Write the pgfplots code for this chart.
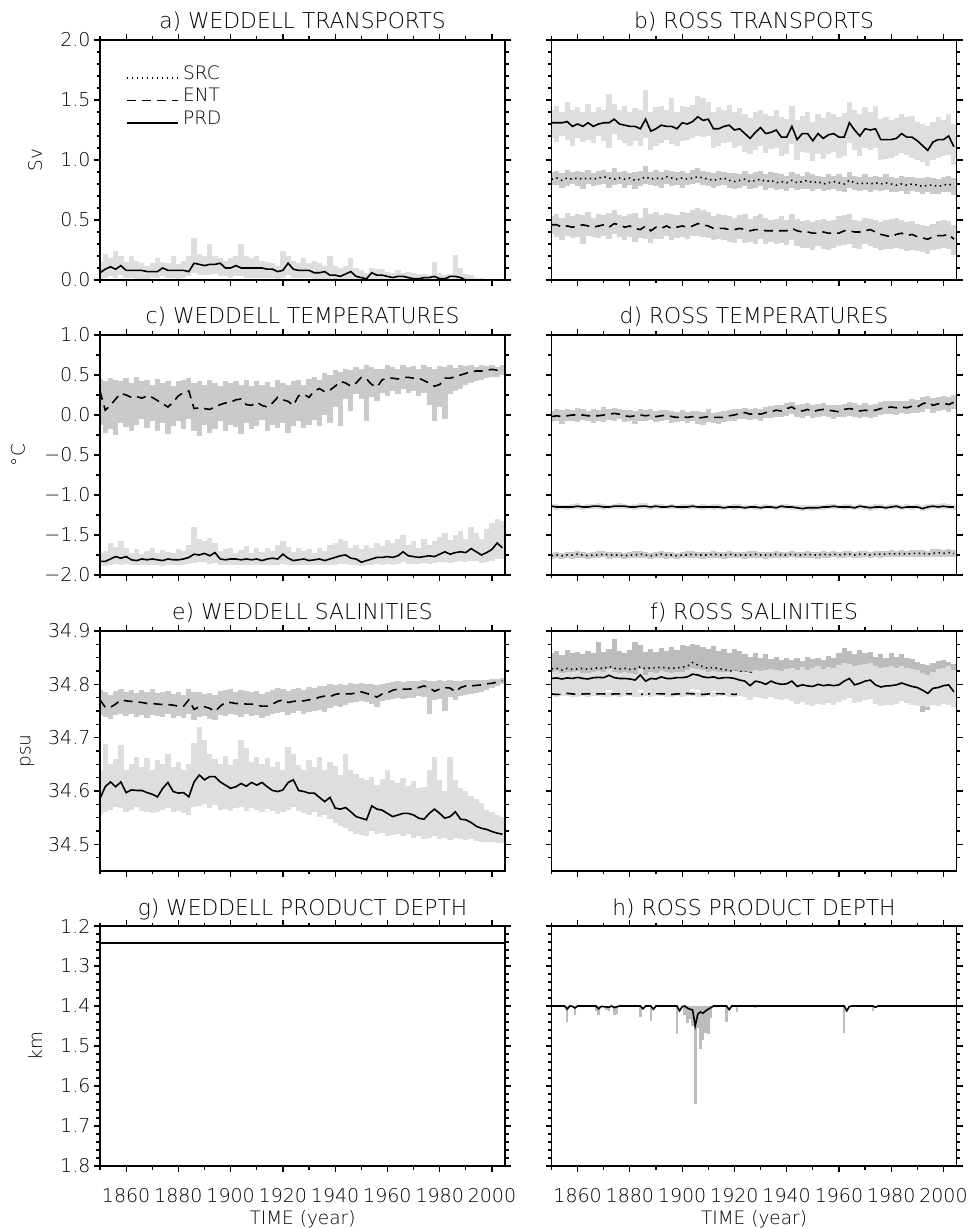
\documentclass[border=0pt]{standalone}
\usepackage{pgfplots}
\pgfplotsset{compat=1.18}
\usepackage{pgfplotstable}
\usepackage{fontspec}
\setmainfont{DejaVu Sans ExtraLight}

\definecolor{bandlight}{RGB}{221,222,224}
\definecolor{bandent}{RGB}{213,214,216}
\definecolor{bandmid}{RGB}{201,202,204}
\definecolor{banddark}{RGB}{187,188,190}

% a) Weddell transports: product (mean, min, max)
\pgfplotstableread{
year pm pl ph
1850 0.06 0.00 0.15
1852 0.09 0.02 0.22
1854 0.11 0.03 0.18
1856 0.09 0.02 0.24
1858 0.12 0.04 0.20
1860 0.08 0.02 0.15
1862 0.08 0.02 0.20
1864 0.08 0.01 0.16
1866 0.08 0.01 0.14
1868 0.07 0.01 0.12
1870 0.07 0.02 0.14
1872 0.07 0.02 0.18
1874 0.10 0.03 0.15
1876 0.08 0.02 0.14
1878 0.08 0.02 0.20
1880 0.08 0.01 0.13
1882 0.08 0.02 0.16
1884 0.07 0.03 0.20
1886 0.14 0.06 0.35
1888 0.13 0.04 0.22
1890 0.12 0.04 0.20
1892 0.13 0.04 0.30
1894 0.13 0.05 0.20
1896 0.14 0.03 0.18
1898 0.10 0.03 0.16
1900 0.10 0.02 0.18
1902 0.12 0.03 0.20
1904 0.10 0.03 0.30
1906 0.10 0.02 0.20
1908 0.10 0.02 0.18
1910 0.10 0.02 0.20
1912 0.10 0.02 0.16
1914 0.09 0.02 0.15
1916 0.09 0.02 0.14
1918 0.07 0.01 0.12
1920 0.08 0.02 0.24
1922 0.14 0.04 0.20
1924 0.09 0.02 0.16
1926 0.08 0.02 0.14
1928 0.08 0.02 0.18
1930 0.08 0.02 0.14
1932 0.06 0.01 0.16
1934 0.06 0.01 0.14
1936 0.07 0.01 0.12
1938 0.04 0.00 0.20
1940 0.04 0.00 0.12
1942 0.03 0.00 0.10
1944 0.05 0.00 0.12
1946 0.07 0.00 0.18
1948 0.03 0.00 0.10
1950 0.02 0.00 0.08
1952 0.01 0.00 0.06
1954 0.06 0.00 0.10
1956 0.04 0.00 0.09
1958 0.04 0.00 0.09
1960 0.03 0.00 0.07
1962 0.02 0.00 0.06
1964 0.03 0.00 0.08
1966 0.03 0.00 0.06
1968 0.02 0.00 0.07
1970 0.01 0.00 0.06
1972 0.01 0.00 0.05
1974 0.02 0.00 0.05
1976 0.02 0.00 0.04
1978 0.03 0.00 0.15
1980 0.01 0.00 0.06
1982 0.01 0.00 0.04
1984 0.03 0.00 0.05
1986 0.03 0.00 0.21
1988 0.02 0.00 0.10
1990 0.00 0.00 0.05
1992 0.00 0.00 0.04
1994 0.00 0.00 0.02
1996 0.00 0.00 0.02
1998 0.00 0.00 0.01
2000 0.00 0.00 0.01
2002 0.00 0.00 0.00
2004 0.00 0.00 0.00
}\tabA

% b) Ross transports: source, entrainment, product (mean, min, max)
\pgfplotstableread{
year sm sl sh em el eh pm pl ph
1850 0.84 0.79 0.90 0.46 0.38 0.53 1.31 1.18 1.42
1852 0.85 0.79 0.91 0.46 0.36 0.55 1.31 1.15 1.45
1854 0.83 0.77 0.89 0.44 0.33 0.52 1.31 1.20 1.40
1856 0.85 0.78 0.92 0.45 0.37 0.56 1.32 1.17 1.48
1858 0.84 0.80 0.90 0.44 0.35 0.53 1.28 1.12 1.42
1860 0.85 0.78 0.91 0.45 0.36 0.55 1.30 1.18 1.44
1862 0.84 0.76 0.90 0.46 0.30 0.54 1.28 1.15 1.40
1864 0.85 0.80 0.92 0.45 0.37 0.57 1.31 1.17 1.47
1866 0.84 0.78 0.89 0.44 0.36 0.52 1.28 1.14 1.40
1868 0.85 0.79 0.91 0.45 0.35 0.55 1.30 1.20 1.44
1870 0.86 0.80 0.92 0.46 0.37 0.54 1.31 1.16 1.42
1872 0.85 0.77 0.90 0.44 0.34 0.56 1.31 1.10 1.55
1874 0.84 0.79 0.93 0.47 0.38 0.58 1.34 1.22 1.47
1876 0.85 0.80 0.90 0.46 0.36 0.54 1.30 1.17 1.42
1878 0.84 0.77 0.91 0.44 0.33 0.53 1.29 1.14 1.45
1880 0.85 0.79 0.89 0.45 0.36 0.55 1.28 1.12 1.40
1882 0.83 0.76 0.90 0.43 0.32 0.56 1.28 1.16 1.43
1884 0.84 0.78 0.91 0.42 0.35 0.52 1.26 1.12 1.42
1886 0.86 0.80 0.95 0.45 0.34 0.60 1.34 1.18 1.58
1888 0.84 0.79 0.90 0.41 0.31 0.55 1.24 1.08 1.40
1890 0.85 0.78 0.92 0.44 0.34 0.57 1.26 1.12 1.44
1892 0.84 0.77 0.90 0.43 0.34 0.54 1.29 1.14 1.45
1894 0.86 0.80 0.92 0.45 0.37 0.56 1.28 1.17 1.42
1896 0.85 0.78 0.91 0.43 0.33 0.55 1.28 1.13 1.52
1898 0.84 0.79 0.90 0.44 0.35 0.54 1.26 1.12 1.40
1900 0.85 0.77 0.91 0.45 0.36 0.57 1.31 1.16 1.45
1902 0.84 0.79 0.89 0.44 0.34 0.56 1.30 1.17 1.44
1904 0.85 0.80 0.92 0.45 0.37 0.58 1.32 1.18 1.46
1906 0.86 0.81 0.93 0.47 0.37 0.60 1.36 1.20 1.53
1908 0.85 0.79 0.91 0.46 0.36 0.58 1.33 1.19 1.52
1910 0.84 0.78 0.90 0.45 0.35 0.57 1.34 1.20 1.48
1912 0.83 0.77 0.89 0.43 0.33 0.53 1.26 1.10 1.40
1914 0.84 0.78 0.91 0.43 0.34 0.55 1.26 1.12 1.44
1916 0.85 0.79 0.90 0.43 0.33 0.54 1.28 1.14 1.42
1918 0.83 0.77 0.89 0.42 0.32 0.53 1.29 1.15 1.46
1920 0.82 0.76 0.89 0.42 0.31 0.52 1.25 1.10 1.40
1922 0.83 0.77 0.88 0.43 0.34 0.54 1.26 1.12 1.43
1924 0.84 0.78 0.91 0.42 0.31 0.55 1.22 1.07 1.38
1926 0.82 0.76 0.88 0.41 0.32 0.51 1.18 1.05 1.35
1928 0.83 0.77 0.90 0.42 0.30 0.53 1.23 1.08 1.40
1930 0.84 0.78 0.91 0.42 0.34 0.55 1.27 1.12 1.42
1932 0.82 0.75 0.88 0.41 0.30 0.52 1.22 1.06 1.38
1934 0.83 0.77 0.90 0.41 0.32 0.50 1.23 1.09 1.37
1936 0.81 0.75 0.89 0.41 0.30 0.51 1.25 1.10 1.42
1938 0.82 0.76 0.88 0.41 0.31 0.53 1.19 1.03 1.36
1940 0.81 0.74 0.87 0.41 0.29 0.50 1.19 1.05 1.34
1942 0.83 0.77 0.90 0.43 0.33 0.55 1.28 1.13 1.45
1944 0.81 0.75 0.88 0.41 0.28 0.51 1.17 1.00 1.33
1946 0.82 0.76 0.87 0.40 0.27 0.49 1.22 1.07 1.37
1948 0.83 0.76 0.90 0.40 0.27 0.50 1.22 1.06 1.40
1950 0.81 0.74 0.88 0.39 0.25 0.48 1.16 0.99 1.32
1952 0.82 0.76 0.87 0.39 0.28 0.50 1.22 1.05 1.38
1954 0.80 0.74 0.86 0.40 0.26 0.51 1.18 1.01 1.35
1956 0.81 0.75 0.88 0.39 0.25 0.49 1.21 1.05 1.40
1958 0.82 0.76 0.87 0.39 0.27 0.50 1.22 1.07 1.38
1960 0.81 0.74 0.88 0.39 0.28 0.53 1.19 1.02 1.36
1962 0.80 0.73 0.86 0.41 0.29 0.54 1.19 1.03 1.39
1964 0.83 0.77 0.90 0.41 0.30 0.55 1.31 1.14 1.48
1966 0.81 0.75 0.87 0.40 0.27 0.50 1.25 1.08 1.42
1968 0.80 0.74 0.86 0.40 0.26 0.49 1.20 1.03 1.38
1970 0.81 0.75 0.88 0.41 0.30 0.52 1.26 1.10 1.44
1972 0.80 0.73 0.86 0.42 0.28 0.51 1.25 1.08 1.40
1974 0.81 0.75 0.87 0.40 0.27 0.50 1.26 1.10 1.45
1976 0.80 0.74 0.86 0.38 0.25 0.48 1.17 1.00 1.34
1978 0.81 0.75 0.88 0.37 0.26 0.50 1.17 1.01 1.36
1980 0.80 0.73 0.86 0.36 0.26 0.51 1.17 1.02 1.33
1982 0.79 0.73 0.85 0.38 0.27 0.52 1.18 1.03 1.35
1984 0.80 0.74 0.87 0.39 0.26 0.50 1.22 1.06 1.38
1986 0.79 0.72 0.86 0.37 0.24 0.48 1.19 1.04 1.36
1988 0.80 0.74 0.86 0.38 0.25 0.49 1.19 1.02 1.37
1990 0.79 0.73 0.85 0.36 0.24 0.47 1.16 1.00 1.32
1992 0.78 0.72 0.85 0.35 0.23 0.46 1.12 0.98 1.30
1994 0.79 0.73 0.86 0.34 0.22 0.45 1.08 0.95 1.28
1996 0.79 0.72 0.85 0.36 0.25 0.47 1.15 1.00 1.32
1998 0.78 0.72 0.84 0.37 0.26 0.49 1.17 1.02 1.36
2000 0.79 0.73 0.86 0.37 0.27 0.50 1.17 1.03 1.33
2002 0.80 0.73 0.87 0.38 0.26 0.49 1.20 1.04 1.38
2004 0.78 0.71 0.85 0.34 0.21 0.46 1.11 0.96 1.30
}\tabB

% c) Weddell temperatures: entrainment, product
\pgfplotstableread{
year em el eh pm pl ph
1850 0.30 -0.12 0.45 -1.83 -1.88 -1.72
1852 0.06 -0.22 0.42 -1.83 -1.89 -1.70
1854 0.12 -0.18 0.46 -1.80 -1.87 -1.60
1856 0.20 -0.25 0.44 -1.77 -1.86 -1.65
1858 0.27 -0.10 0.43 -1.79 -1.87 -1.58
1860 0.25 -0.15 0.46 -1.77 -1.86 -1.66
1862 0.22 -0.20 0.40 -1.81 -1.88 -1.72
1864 0.23 -0.12 0.47 -1.82 -1.88 -1.68
1866 0.21 -0.05 0.42 -1.80 -1.87 -1.74
1868 0.24 -0.16 0.44 -1.81 -1.88 -1.70
1870 0.22 -0.08 0.38 -1.80 -1.87 -1.66
1872 0.18 -0.20 0.45 -1.81 -1.88 -1.72
1874 0.14 -0.10 0.40 -1.82 -1.89 -1.69
1876 0.10 -0.24 0.43 -1.80 -1.88 -1.71
1878 0.16 -0.14 0.36 -1.81 -1.87 -1.73
1880 0.24 -0.08 0.42 -1.81 -1.88 -1.68
1882 0.28 -0.18 0.44 -1.80 -1.87 -1.70
1884 0.30 -0.05 0.46 -1.78 -1.86 -1.62
1886 0.08 -0.20 0.40 -1.74 -1.85 -1.40
1888 0.09 -0.26 0.42 -1.75 -1.84 -1.55
1890 0.08 -0.12 0.38 -1.73 -1.84 -1.58
1892 0.07 -0.22 0.44 -1.76 -1.86 -1.54
1894 0.10 -0.18 0.40 -1.72 -1.85 -1.60
1896 0.13 -0.08 0.36 -1.80 -1.87 -1.70
1898 0.15 -0.20 0.43 -1.81 -1.88 -1.68
1900 0.16 -0.12 0.40 -1.80 -1.87 -1.66
1902 0.19 -0.15 0.42 -1.80 -1.88 -1.72
1904 0.20 -0.24 0.38 -1.81 -1.87 -1.69
1906 0.13 -0.10 0.44 -1.80 -1.88 -1.64
1908 0.12 -0.18 0.36 -1.81 -1.87 -1.72
1910 0.16 -0.14 0.42 -1.80 -1.88 -1.66
1912 0.12 -0.06 0.37 -1.82 -1.88 -1.71
1914 0.10 -0.20 0.41 -1.80 -1.87 -1.66
1916 0.15 -0.12 0.35 -1.79 -1.87 -1.70
1918 0.22 -0.16 0.44 -1.80 -1.88 -1.62
1920 0.19 -0.10 0.40 -1.74 -1.86 -1.58
1922 0.17 -0.22 0.38 -1.79 -1.87 -1.65
1924 0.12 -0.14 0.42 -1.82 -1.88 -1.71
1926 0.24 -0.08 0.44 -1.81 -1.88 -1.66
1928 0.26 -0.16 0.38 -1.80 -1.87 -1.70
1930 0.22 -0.12 0.45 -1.82 -1.88 -1.68
1932 0.30 -0.06 0.48 -1.81 -1.88 -1.72
1934 0.33 -0.14 0.44 -1.80 -1.87 -1.66
1936 0.29 0.00 0.52 -1.82 -1.88 -1.70
1938 0.31 -0.10 0.50 -1.80 -1.87 -1.62
1940 0.36 0.10 0.56 -1.78 -1.87 -1.60
1942 0.42 -0.14 0.54 -1.76 -1.86 -1.55
1944 0.40 0.20 0.58 -1.75 -1.86 -1.58
1946 0.36 0.05 0.56 -1.79 -1.87 -1.66
1948 0.40 0.26 0.60 -1.80 -1.88 -1.62
1950 0.47 0.20 0.58 -1.84 -1.89 -1.68
1952 0.45 -0.08 0.62 -1.82 -1.88 -1.62
1954 0.38 0.22 0.60 -1.80 -1.87 -1.66
1956 0.35 0.18 0.57 -1.78 -1.86 -1.60
1958 0.44 0.28 0.58 -1.78 -1.87 -1.64
1960 0.46 0.24 0.62 -1.77 -1.86 -1.56
1962 0.46 0.30 0.60 -1.78 -1.87 -1.60
1964 0.45 0.26 0.58 -1.76 -1.86 -1.55
1966 0.47 0.32 0.62 -1.71 -1.84 -1.50
1968 0.47 0.28 0.60 -1.76 -1.86 -1.62
1970 0.46 0.30 0.61 -1.77 -1.86 -1.58
1972 0.46 0.24 0.58 -1.78 -1.86 -1.66
1974 0.43 0.28 0.62 -1.77 -1.85 -1.55
1976 0.40 0.12 0.60 -1.76 -1.86 -1.62
1978 0.36 -0.08 0.58 -1.77 -1.85 -1.58
1980 0.38 0.10 0.61 -1.74 -1.84 -1.52
1982 0.46 -0.05 0.60 -1.71 -1.84 -1.48
1984 0.46 0.26 0.62 -1.74 -1.85 -1.56
1986 0.48 0.30 0.59 -1.72 -1.84 -1.50
1988 0.50 0.32 0.62 -1.71 -1.83 -1.45
1990 0.52 0.38 0.61 -1.72 -1.84 -1.55
1992 0.54 0.40 0.62 -1.67 -1.82 -1.40
1994 0.55 0.42 0.60 -1.71 -1.83 -1.48
1996 0.55 0.44 0.62 -1.75 -1.85 -1.55
1998 0.56 0.46 0.61 -1.72 -1.84 -1.42
2000 0.57 0.48 0.62 -1.68 -1.82 -1.35
2002 0.56 0.47 0.60 -1.60 -1.80 -1.30
2004 0.58 0.50 0.62 -1.66 -1.80 -1.32
}\tabC

% d) Ross temperatures: source, entrainment, product
\pgfplotstableread{
year sm sl sh em el eh pm pl ph
1850 -1.76 -1.80 -1.72 -0.02 -0.09 0.05 -1.14 -1.18 -1.11
1852 -1.75 -1.79 -1.71 -0.01 -0.07 0.07 -1.15 -1.19 -1.11
1854 -1.76 -1.80 -1.72 -0.02 -0.11 0.06 -1.15 -1.18 -1.12
1856 -1.75 -1.79 -1.71 -0.01 -0.08 0.08 -1.15 -1.19 -1.12
1858 -1.75 -1.80 -1.71 0.00 -0.07 0.06 -1.15 -1.18 -1.11
1860 -1.74 -1.79 -1.70 0.00 -0.09 0.09 -1.14 -1.18 -1.10
1862 -1.75 -1.79 -1.71 0.00 -0.06 0.07 -1.15 -1.19 -1.12
1864 -1.76 -1.80 -1.72 -0.01 -0.08 0.05 -1.15 -1.18 -1.11
1866 -1.75 -1.79 -1.71 -0.01 -0.10 0.08 -1.14 -1.18 -1.11
1868 -1.75 -1.79 -1.70 -0.01 -0.07 0.06 -1.14 -1.17 -1.10
1870 -1.74 -1.78 -1.70 0.00 -0.09 0.10 -1.15 -1.19 -1.11
1872 -1.75 -1.80 -1.71 0.01 -0.06 0.07 -1.15 -1.18 -1.12
1874 -1.75 -1.79 -1.71 0.02 -0.07 0.09 -1.14 -1.18 -1.11
1876 -1.75 -1.79 -1.71 0.01 -0.05 0.07 -1.14 -1.17 -1.10
1878 -1.76 -1.80 -1.72 -0.01 -0.09 0.06 -1.14 -1.18 -1.11
1880 -1.75 -1.79 -1.71 -0.02 -0.08 0.06 -1.15 -1.18 -1.12
1882 -1.75 -1.79 -1.70 -0.01 -0.11 0.05 -1.15 -1.19 -1.11
1884 -1.74 -1.79 -1.70 0.00 -0.07 0.07 -1.14 -1.17 -1.10
1886 -1.75 -1.79 -1.71 -0.01 -0.08 0.06 -1.14 -1.18 -1.10
1888 -1.76 -1.80 -1.72 0.00 -0.06 0.07 -1.15 -1.19 -1.12
1890 -1.75 -1.79 -1.71 -0.02 -0.09 0.05 -1.14 -1.18 -1.11
1892 -1.74 -1.79 -1.70 -0.01 -0.07 0.06 -1.15 -1.18 -1.11
1894 -1.75 -1.80 -1.71 0.00 -0.06 0.06 -1.15 -1.18 -1.12
1896 -1.75 -1.79 -1.71 -0.02 -0.10 0.05 -1.14 -1.18 -1.11
1898 -1.76 -1.80 -1.72 -0.03 -0.09 0.04 -1.15 -1.18 -1.12
1900 -1.75 -1.79 -1.71 -0.02 -0.08 0.06 -1.15 -1.19 -1.11
1902 -1.75 -1.79 -1.70 -0.03 -0.10 0.04 -1.15 -1.18 -1.11
1904 -1.74 -1.79 -1.70 -0.02 -0.08 0.05 -1.14 -1.18 -1.11
1906 -1.75 -1.79 -1.71 -0.04 -0.11 0.05 -1.15 -1.18 -1.12
1908 -1.75 -1.80 -1.71 -0.03 -0.12 0.04 -1.15 -1.19 -1.11
1910 -1.75 -1.79 -1.71 -0.02 -0.09 0.07 -1.15 -1.18 -1.12
1912 -1.74 -1.79 -1.70 -0.03 -0.10 0.03 -1.15 -1.19 -1.11
1914 -1.75 -1.79 -1.71 -0.03 -0.11 0.04 -1.15 -1.18 -1.11
1916 -1.75 -1.80 -1.71 -0.03 -0.09 0.05 -1.16 -1.19 -1.12
1918 -1.74 -1.79 -1.70 -0.01 -0.08 0.06 -1.15 -1.18 -1.12
1920 -1.75 -1.79 -1.71 0.00 -0.07 0.07 -1.15 -1.19 -1.11
1922 -1.75 -1.79 -1.71 0.02 -0.05 0.08 -1.15 -1.18 -1.11
1924 -1.75 -1.80 -1.71 0.03 -0.05 0.09 -1.16 -1.19 -1.12
1926 -1.75 -1.79 -1.70 0.01 -0.06 0.08 -1.15 -1.18 -1.12
1928 -1.74 -1.79 -1.70 0.02 -0.05 0.09 -1.15 -1.19 -1.11
1930 -1.75 -1.79 -1.71 0.01 -0.07 0.08 -1.16 -1.19 -1.12
1932 -1.75 -1.80 -1.71 0.03 -0.04 0.10 -1.15 -1.18 -1.11
1934 -1.75 -1.79 -1.71 0.04 -0.04 0.11 -1.15 -1.18 -1.12
1936 -1.74 -1.79 -1.70 0.06 -0.03 0.13 -1.16 -1.19 -1.12
1938 -1.75 -1.79 -1.71 0.05 -0.03 0.12 -1.14 -1.18 -1.11
1940 -1.75 -1.79 -1.71 0.08 -0.01 0.15 -1.15 -1.18 -1.11
1942 -1.74 -1.78 -1.70 0.10 0.01 0.16 -1.15 -1.19 -1.12
1944 -1.75 -1.79 -1.71 0.06 -0.03 0.13 -1.16 -1.19 -1.12
1946 -1.75 -1.79 -1.71 0.05 -0.04 0.14 -1.17 -1.20 -1.13
1948 -1.74 -1.79 -1.70 0.07 -0.01 0.15 -1.16 -1.19 -1.13
1950 -1.75 -1.79 -1.71 0.04 -0.04 0.13 -1.16 -1.20 -1.12
1952 -1.75 -1.80 -1.71 0.06 -0.03 0.14 -1.16 -1.19 -1.13
1954 -1.74 -1.79 -1.70 0.07 -0.01 0.15 -1.15 -1.19 -1.12
1956 -1.75 -1.79 -1.71 0.06 -0.03 0.13 -1.15 -1.18 -1.11
1958 -1.74 -1.78 -1.70 0.05 -0.05 0.12 -1.14 -1.18 -1.11
1960 -1.75 -1.79 -1.71 0.04 -0.03 0.13 -1.15 -1.18 -1.12
1962 -1.74 -1.79 -1.70 0.07 -0.02 0.14 -1.15 -1.19 -1.11
1964 -1.74 -1.78 -1.70 0.08 -0.01 0.16 -1.15 -1.18 -1.11
1966 -1.75 -1.79 -1.71 0.07 -0.02 0.15 -1.16 -1.19 -1.12
1968 -1.74 -1.79 -1.70 0.05 -0.04 0.13 -1.14 -1.18 -1.11
1970 -1.74 -1.78 -1.70 0.06 -0.03 0.15 -1.15 -1.19 -1.12
1972 -1.75 -1.79 -1.71 0.05 -0.04 0.13 -1.16 -1.20 -1.12
1974 -1.74 -1.78 -1.70 0.06 -0.02 0.14 -1.15 -1.19 -1.11
1976 -1.74 -1.79 -1.70 0.08 0.00 0.16 -1.15 -1.18 -1.11
1978 -1.74 -1.78 -1.70 0.09 0.01 0.17 -1.16 -1.19 -1.12
1980 -1.73 -1.78 -1.69 0.10 0.01 0.18 -1.15 -1.18 -1.11
1982 -1.74 -1.78 -1.70 0.09 0.00 0.17 -1.14 -1.18 -1.11
1984 -1.73 -1.78 -1.69 0.10 0.02 0.18 -1.16 -1.19 -1.12
1986 -1.74 -1.78 -1.70 0.09 0.01 0.17 -1.15 -1.18 -1.11
1988 -1.73 -1.77 -1.69 0.11 0.03 0.20 -1.15 -1.19 -1.12
1990 -1.73 -1.78 -1.69 0.10 0.02 0.19 -1.15 -1.18 -1.11
1992 -1.73 -1.78 -1.69 0.14 0.04 0.23 -1.17 -1.20 -1.13
1994 -1.74 -1.78 -1.70 0.16 0.07 0.24 -1.15 -1.19 -1.11
1996 -1.73 -1.77 -1.68 0.12 0.03 0.21 -1.14 -1.18 -1.11
1998 -1.72 -1.77 -1.68 0.14 0.05 0.23 -1.15 -1.18 -1.11
2000 -1.73 -1.78 -1.69 0.15 0.06 0.24 -1.14 -1.17 -1.10
2002 -1.72 -1.77 -1.68 0.13 0.04 0.23 -1.15 -1.18 -1.11
2004 -1.73 -1.77 -1.69 0.16 0.07 0.25 -1.15 -1.19 -1.12
}\tabD

% e) Weddell salinities: entrainment, product
\pgfplotstableread{
year em el eh pm pl ph
1850 34.771 34.742 34.790 34.586 34.555 34.640
1852 34.757 34.738 34.785 34.608 34.560 34.689
1854 34.757 34.735 34.780 34.617 34.565 34.650
1856 34.763 34.742 34.788 34.608 34.570 34.660
1858 34.771 34.745 34.792 34.617 34.568 34.686
1860 34.769 34.740 34.786 34.597 34.560 34.640
1862 34.768 34.744 34.790 34.602 34.565 34.650
1864 34.767 34.738 34.784 34.601 34.570 34.664
1866 34.766 34.742 34.789 34.601 34.562 34.645
1868 34.764 34.736 34.785 34.597 34.560 34.662
1870 34.764 34.743 34.791 34.594 34.558 34.640
1872 34.763 34.740 34.783 34.589 34.560 34.658
1874 34.762 34.738 34.786 34.605 34.565 34.650
1876 34.762 34.744 34.788 34.616 34.568 34.670
1878 34.761 34.737 34.782 34.599 34.560 34.645
1880 34.759 34.740 34.785 34.596 34.563 34.655
1882 34.759 34.736 34.780 34.597 34.558 34.640
1884 34.771 34.745 34.792 34.589 34.555 34.650
1886 34.753 34.733 34.785 34.617 34.570 34.690
1888 34.758 34.738 34.786 34.630 34.572 34.720
1890 34.758 34.740 34.782 34.621 34.575 34.696
1892 34.755 34.735 34.784 34.627 34.568 34.670
1894 34.749 34.733 34.780 34.627 34.573 34.660
1896 34.759 34.742 34.788 34.617 34.565 34.650
1898 34.766 34.740 34.790 34.611 34.566 34.665
1900 34.766 34.745 34.792 34.605 34.562 34.648
1902 34.764 34.742 34.786 34.608 34.568 34.660
1904 34.764 34.738 34.790 34.614 34.570 34.696
1906 34.763 34.744 34.787 34.609 34.563 34.680
1908 34.763 34.740 34.785 34.616 34.568 34.655
1910 34.761 34.742 34.788 34.611 34.565 34.664
1912 34.759 34.736 34.782 34.616 34.560 34.650
1914 34.759 34.741 34.786 34.608 34.566 34.662
1916 34.763 34.744 34.790 34.601 34.562 34.645
1918 34.768 34.746 34.793 34.599 34.556 34.655
1920 34.771 34.748 34.792 34.602 34.560 34.640
1922 34.766 34.742 34.788 34.616 34.565 34.683
1924 34.768 34.746 34.791 34.621 34.570 34.670
1926 34.769 34.750 34.794 34.601 34.562 34.648
1928 34.769 34.745 34.790 34.599 34.558 34.640
1930 34.771 34.748 34.795 34.596 34.555 34.658
1932 34.772 34.750 34.793 34.596 34.560 34.645
1934 34.776 34.752 34.797 34.588 34.552 34.664
1936 34.778 34.748 34.796 34.580 34.555 34.640
1938 34.777 34.755 34.800 34.588 34.548 34.655
1940 34.781 34.760 34.798 34.568 34.540 34.646
1942 34.783 34.758 34.801 34.566 34.535 34.630
1944 34.782 34.762 34.799 34.569 34.530 34.670
1946 34.782 34.765 34.802 34.561 34.525 34.640
1948 34.784 34.766 34.800 34.552 34.520 34.632
1950 34.786 34.768 34.803 34.549 34.518 34.625
1952 34.783 34.766 34.801 34.546 34.515 34.620
1954 34.780 34.764 34.800 34.572 34.525 34.627
1956 34.776 34.758 34.798 34.566 34.520 34.612
1958 34.782 34.768 34.801 34.564 34.522 34.622
1960 34.784 34.770 34.803 34.558 34.515 34.640
1962 34.789 34.772 34.805 34.552 34.518 34.620
1964 34.791 34.774 34.806 34.555 34.520 34.615
1966 34.791 34.772 34.804 34.558 34.515 34.624
1968 34.791 34.775 34.806 34.558 34.520 34.610
1970 34.792 34.774 34.807 34.555 34.512 34.618
1972 34.794 34.778 34.806 34.549 34.515 34.605
1974 34.797 34.777 34.808 34.547 34.510 34.608
1976 34.794 34.745 34.807 34.558 34.512 34.640
1978 34.787 34.770 34.806 34.566 34.515 34.664
1980 34.791 34.772 34.808 34.558 34.510 34.620
1982 34.794 34.750 34.806 34.549 34.512 34.600
1984 34.793 34.776 34.808 34.552 34.508 34.664
1986 34.786 34.770 34.806 34.561 34.512 34.620
1988 34.794 34.778 34.807 34.547 34.510 34.605
1990 34.797 34.780 34.808 34.546 34.508 34.600
1992 34.797 34.782 34.809 34.541 34.510 34.590
1994 34.798 34.784 34.808 34.534 34.506 34.585
1996 34.799 34.786 34.809 34.530 34.505 34.577
1998 34.801 34.790 34.809 34.528 34.504 34.565
2000 34.802 34.794 34.810 34.524 34.505 34.560
2002 34.804 34.797 34.810 34.521 34.503 34.555
2004 34.807 34.800 34.811 34.519 34.502 34.552
}\tabE

% f) Ross salinities: source, entrainment, product
\pgfplotstableread{
year sm sl sh em el eh pm pl ph
1850 34.829 34.800 34.858 34.782 34.778 34.787 34.811 34.784 34.823
1852 34.830 34.802 34.862 34.781 34.777 34.786 34.812 34.786 34.825
1854 34.827 34.800 34.855 34.782 34.778 34.787 34.810 34.782 34.822
1856 34.830 34.803 34.865 34.783 34.779 34.788 34.812 34.788 34.824
1858 34.828 34.801 34.858 34.782 34.777 34.786 34.811 34.785 34.823
1860 34.829 34.800 34.860 34.781 34.777 34.786 34.813 34.786 34.825
1862 34.830 34.803 34.856 34.782 34.778 34.787 34.811 34.783 34.822
1864 34.828 34.800 34.862 34.782 34.777 34.786 34.810 34.785 34.821
1866 34.830 34.802 34.858 34.783 34.779 34.788 34.8125 34.787 34.824
1868 34.831 34.804 34.880 34.782 34.778 34.787 34.813 34.786 34.825
1870 34.829 34.801 34.860 34.782 34.777 34.786 34.8125 34.785 34.823
1872 34.834 34.806 34.866 34.781 34.777 34.786 34.817 34.790 34.828
1874 34.830 34.803 34.885 34.782 34.778 34.787 34.8125 34.786 34.824
1876 34.829 34.801 34.862 34.782 34.777 34.786 34.811 34.784 34.822
1878 34.830 34.802 34.858 34.783 34.779 34.788 34.811 34.785 34.823
1880 34.828 34.800 34.864 34.782 34.778 34.787 34.810 34.783 34.821
1882 34.829 34.801 34.880 34.782 34.777 34.786 34.808 34.780 34.820
1884 34.833 34.806 34.874 34.781 34.777 34.786 34.8175 34.790 34.829
1886 34.829 34.800 34.860 34.782 34.778 34.787 34.806 34.779 34.818
1888 34.831 34.803 34.866 34.782 34.777 34.786 34.811 34.784 34.823
1890 34.831 34.804 34.860 34.783 34.779 34.788 34.810 34.783 34.822
1892 34.832 34.805 34.868 34.782 34.778 34.787 34.814 34.787 34.825
1894 34.831 34.803 34.862 34.782 34.777 34.786 34.811 34.784 34.823
1896 34.830 34.802 34.870 34.781 34.777 34.786 34.811 34.785 34.822
1898 34.831 34.804 34.865 34.782 34.778 34.787 34.8125 34.786 34.824
1900 34.832 34.805 34.874 34.782 34.777 34.786 34.8125 34.785 34.824
1902 34.834 34.806 34.872 34.783 34.779 34.788 34.814 34.787 34.826
1904 34.841 34.812 34.876 34.782 34.778 34.787 34.819 34.791 34.830
1906 34.836 34.808 34.874 34.782 34.777 34.786 34.8175 34.790 34.829
1908 34.833 34.805 34.870 34.781 34.777 34.786 34.814 34.786 34.826
1910 34.830 34.802 34.866 34.782 34.778 34.787 34.8125 34.785 34.824
1912 34.832 34.804 34.872 34.782 34.777 34.786 34.814 34.787 34.825
1914 34.829 34.800 34.862 34.783 34.779 34.788 34.811 34.783 34.823
1916 34.828 34.799 34.866 34.782 34.778 34.787 34.8125 34.784 34.824
1918 34.826 34.798 34.858 34.782 34.777 34.786 34.8125 34.785 34.824
1920 34.824 34.796 34.866 34.781 34.777 34.786 34.811 34.783 34.825
1922 34.824 34.795 34.862 34.782 34.778 34.787 34.808 34.780 34.824
1924 34.823 34.794 34.856 34.782 34.777 34.786 34.806 34.778 34.824
1926 34.822 34.793 34.852 34.783 34.779 34.788 34.7975 34.770 34.822
1928 34.821 34.792 34.858 34.782 34.778 34.787 34.806 34.776 34.826
1930 34.819 34.790 34.850 34.782 34.777 34.786 34.804 34.774 34.825
1932 34.817 34.788 34.856 34.781 34.777 34.786 34.800 34.772 34.826
1934 34.815 34.786 34.848 34.782 34.778 34.787 34.806 34.776 34.828
1936 34.814 34.785 34.852 34.782 34.777 34.786 34.802 34.772 34.826
1938 34.813 34.784 34.846 34.783 34.779 34.788 34.800 34.770 34.825
1940 34.810 34.782 34.850 34.782 34.778 34.787 34.801 34.772 34.828
1942 34.808 34.780 34.846 34.782 34.777 34.786 34.806 34.768 34.830
1944 34.806 34.778 34.850 34.781 34.777 34.786 34.796 34.764 34.826
1946 34.806 34.778 34.844 34.782 34.778 34.787 34.799 34.766 34.832
1948 34.805 34.776 34.852 34.782 34.777 34.786 34.797 34.762 34.826
1950 34.804 34.775 34.848 34.783 34.779 34.788 34.796 34.760 34.830
1952 34.805 34.776 34.850 34.782 34.778 34.787 34.800 34.764 34.834
1954 34.804 34.775 34.846 34.782 34.777 34.786 34.7975 34.762 34.828
1956 34.804 34.776 34.854 34.781 34.777 34.786 34.799 34.765 34.832
1958 34.805 34.776 34.850 34.782 34.778 34.787 34.7975 34.762 34.830
1960 34.806 34.777 34.858 34.782 34.777 34.786 34.799 34.766 34.836
1962 34.808 34.780 34.868 34.783 34.779 34.788 34.806 34.770 34.840
1964 34.810 34.782 34.862 34.782 34.778 34.787 34.811 34.774 34.838
1966 34.806 34.778 34.856 34.782 34.777 34.786 34.799 34.765 34.834
1968 34.806 34.777 34.864 34.781 34.777 34.786 34.802 34.766 34.836
1970 34.807 34.779 34.858 34.782 34.778 34.787 34.806 34.770 34.838
1972 34.808 34.780 34.860 34.782 34.777 34.786 34.808 34.772 34.840
1974 34.806 34.777 34.852 34.783 34.779 34.788 34.799 34.764 34.834
1976 34.805 34.775 34.856 34.782 34.778 34.787 34.795 34.760 34.830
1978 34.805 34.776 34.850 34.782 34.777 34.786 34.797 34.762 34.832
1980 34.806 34.777 34.858 34.781 34.777 34.786 34.7975 34.762 34.834
1982 34.806 34.776 34.852 34.782 34.778 34.787 34.799 34.764 34.830
1984 34.807 34.778 34.856 34.782 34.777 34.786 34.8025 34.768 34.834
1986 34.806 34.776 34.850 34.783 34.779 34.788 34.799 34.765 34.830
1988 34.805 34.775 34.848 34.782 34.778 34.787 34.796 34.762 34.828
1990 34.804 34.772 34.842 34.782 34.777 34.786 34.794 34.760 34.826
1992 34.802 34.748 34.838 34.781 34.777 34.786 34.789 34.760 34.822
1994 34.800 34.752 34.836 34.782 34.778 34.787 34.783 34.758 34.818
1996 34.801 34.770 34.840 34.782 34.777 34.786 34.7925 34.762 34.824
1998 34.802 34.772 34.844 34.783 34.779 34.788 34.794 34.760 34.828
2000 34.803 34.773 34.846 34.782 34.778 34.787 34.7975 34.764 34.830
2002 34.803 34.774 34.842 34.782 34.777 34.786 34.799 34.762 34.834
2004 34.800 34.770 34.838 34.781 34.777 34.786 34.786 34.758 34.826
}\tabF

% h) Ross product depth: deepest annual excursions below the base depth
\pgfplotstableread{
year base deep
1856 1.400 1.439
1859 1.400 1.422
1867 1.400 1.412
1868 1.400 1.422
1871 1.400 1.410
1872 1.400 1.412
1874 1.400 1.422
1875 1.400 1.420
1884 1.400 1.428
1888 1.400 1.437
1898 1.400 1.471
1901 1.400 1.422
1902 1.400 1.443
1903 1.400 1.432
1904 1.400 1.450
1905 1.400 1.645
1906 1.400 1.455
1907 1.400 1.508
1908 1.400 1.485
1909 1.400 1.468
1910 1.400 1.470
1911 1.400 1.430
1917 1.400 1.441
1921 1.400 1.414
1928 1.400 1.406
1933 1.400 1.403
1962 1.400 1.467
1973 1.400 1.412
}\tabH

\pgfplotsset{
  panel/.style={
    scale only axis, width=405pt, height=240pt,
    xmin=1850, xmax=2005,
    xtick={1860,1880,1900,1920,1940,1960,1980,2000},
    minor xtick={1850,1870,1890,1910,1930,1950,1970,1990},
    xticklabels={},
    axis on top,
    axis line style={line width=1.8pt},
    tick align=outside,
    major tick length=6pt, minor tick length=3.5pt,
    every tick/.style={black, line width=1.2pt},
    tick label style={font=\fontsize{19}{21}\selectfont},
    title style={font=\fontsize{21.8}{24}\selectfont, at={(0.5,1)}, anchor=base, yshift=5pt},
    label style={font=\fontsize{18.5}{21}\selectfont},
    anchor=south west,
  },
  % y label placed by its centre, at a fixed fraction of the axis width to the left
  ylab/.style={every axis y label/.style={at={(axis description cs:#1,0.5)},
    rotate=90, anchor=center, font=\fontsize{18.5}{21}\selectfont}},
  bottomrow/.style={
    xticklabels={1860,1880,1900,1920,1940,1960,1980,2000},
    xlabel={TIME (year)},
    xticklabel style={yshift=-13pt},
    xlabel style={yshift=-1pt},
  },
  band/.style={draw=none, no markers, forget plot,
    error bars/.cd, y dir=plus, y explicit, error mark=none,
    error bar style={solid, draw=#1, line width=5.3pt}},
  srcline/.style={black, line width=1.6pt, dash pattern=on 1.4pt off 3.6pt, forget plot},
  entline/.style={black, line width=1.6pt, dash pattern=on 9pt off 6pt, forget plot},
  prdline/.style={black, line width=1.6pt, forget plot},
}

\begin{document}
\begin{tikzpicture}
\path[use as bounding box] (0pt,0pt) rectangle (969pt,1228pt);

% ---- row 1: transports
\begin{axis}[panel, ylab=-0.16, at={(100pt,948pt)},
  title={a) WEDDELL TRANSPORTS}, ylabel={Sv},
  ymin=0, ymax=2, ytick={0,0.5,1,1.5,2}, minor y tick num=4,
  yticklabels={0.0,0.5,1.0,1.5,2.0},
  legend style={draw=none, fill=none, at={(0.064,0.90)}, anchor=north west,
    font=\fontsize{18.5}{20}\selectfont, row sep=4.5pt, inner sep=0pt,
    nodes={inner sep=1.5pt},
    /tikz/every odd column/.append style={column sep=3pt}},
  legend cell align=left,
  legend image code/.code={\draw[#1] (0pt,-4.5pt) -- (51pt,-4.5pt);},
]
\addplot[band=bandlight] table[x=year, y=pl, y error plus expr=\thisrow{ph}-\thisrow{pl}] {\tabA};
\addplot[prdline] table[x=year, y=pm] {\tabA};
\addlegendimage{black, line width=1.6pt, dash pattern=on 1.4pt off 3.6pt}
\addlegendentry{SRC}
\addlegendimage{black, line width=1.6pt, dash pattern=on 9pt off 6pt}
\addlegendentry{ENT}
\addlegendimage{black, line width=1.6pt}
\addlegendentry{PRD}
\end{axis}

\begin{axis}[panel, at={(551.5pt,948pt)},
  title={b) ROSS TRANSPORTS},
  ymin=0, ymax=2, ytick={0,0.5,1,1.5,2}, minor y tick num=4,
  yticklabels={},
]
\addplot[band=bandmid] table[x=year, y=sl, y error plus expr=\thisrow{sh}-\thisrow{sl}] {\tabB};
\addplot[band=bandent] table[x=year, y=el, y error plus expr=\thisrow{eh}-\thisrow{el}] {\tabB};
\addplot[srcline] table[x=year, y=sm] {\tabB};
\addplot[entline] table[x=year, y=em] {\tabB};
\addplot[band=bandlight] table[x=year, y=pl, y error plus expr=\thisrow{ph}-\thisrow{pl}] {\tabB};
\addplot[prdline] table[x=year, y=pm] {\tabB};
\end{axis}

% ---- row 2: temperatures
\begin{axis}[panel, ylab=-0.203, at={(100pt,653pt)},
  title={c) WEDDELL TEMPERATURES}, ylabel={°C},
  ymin=-2, ymax=1, ytick={-2,-1.5,-1,-0.5,0,0.5,1}, minor y tick num=1,
  yticklabels={−2.0,−1.5,−1.0,−0.5,0.0,0.5,1.0},
]
\addplot[band=bandmid] table[x=year, y=el, y error plus expr=\thisrow{eh}-\thisrow{el}] {\tabC};
\addplot[entline] table[x=year, y=em] {\tabC};
\addplot[band=bandlight] table[x=year, y=pl, y error plus expr=\thisrow{ph}-\thisrow{pl}] {\tabC};
\addplot[prdline] table[x=year, y=pm] {\tabC};
\end{axis}

\begin{axis}[panel, at={(551.5pt,653pt)},
  title={d) ROSS TEMPERATURES},
  ymin=-2, ymax=1, ytick={-2,-1.5,-1,-0.5,0,0.5,1}, minor y tick num=1,
  yticklabels={},
]
\addplot[band=bandmid] table[x=year, y=sl, y error plus expr=\thisrow{sh}-\thisrow{sl}] {\tabD};
\addplot[band=bandmid] table[x=year, y=el, y error plus expr=\thisrow{eh}-\thisrow{el}] {\tabD};
\addplot[srcline] table[x=year, y=sm] {\tabD};
\addplot[entline] table[x=year, y=em] {\tabD};
\addplot[band=bandlight] table[x=year, y=pl, y error plus expr=\thisrow{ph}-\thisrow{pl}] {\tabD};
\addplot[prdline] table[x=year, y=pm] {\tabD};
\end{axis}

% ---- row 3: salinities
\begin{axis}[panel, ylab=-0.18, at={(100pt,357pt)},
  title={e) WEDDELL SALINITIES}, ylabel={psu},
  ymin=34.45, ymax=34.9, ytick={34.5,34.6,34.7,34.8,34.9},
  minor ytick={34.475,34.525,34.55,34.575,34.625,34.65,34.675,34.725,34.75,34.775,34.825,34.85,34.875},
  yticklabels={34.5,34.6,34.7,34.8,34.9},
]
\addplot[band=bandmid] table[x=year, y=el, y error plus expr=\thisrow{eh}-\thisrow{el}] {\tabE};
\addplot[entline] table[x=year, y=em] {\tabE};
\addplot[band=bandlight] table[x=year, y=pl, y error plus expr=\thisrow{ph}-\thisrow{pl}] {\tabE};
\addplot[prdline] table[x=year, y=pm] {\tabE};
\end{axis}

\begin{axis}[panel, at={(551.5pt,357pt)},
  title={f) ROSS SALINITIES},
  ymin=34.45, ymax=34.9, ytick={34.5,34.6,34.7,34.8,34.9},
  minor ytick={34.475,34.525,34.55,34.575,34.625,34.65,34.675,34.725,34.75,34.775,34.825,34.85,34.875},
  yticklabels={},
]
\addplot[band=banddark] table[x=year, y=sl, y error plus expr=\thisrow{sh}-\thisrow{sl}] {\tabF};
\addplot[band=bandlight] table[x=year, y=el, y error plus expr=\thisrow{eh}-\thisrow{el}] {\tabF};
\addplot[srcline] table[x=year, y=sm] {\tabF};
\addplot[entline] table[x=year, y=em] {\tabF};
\addplot[band=bandlight] table[x=year, y=pl, y error plus expr=\thisrow{ph}-\thisrow{pl}] {\tabF};
\addplot[prdline] table[x=year, y=pm] {\tabF};
\end{axis}

% ---- row 4: product depth
\begin{axis}[panel, bottomrow, ylab=-0.16, at={(100pt,62pt)},
  title={g) WEDDELL PRODUCT DEPTH}, ylabel={km},
  y dir=reverse, ymin=1.2, ymax=1.8, ytick={1.2,1.3,1.4,1.5,1.6,1.7,1.8}, minor y tick num=4,
  yticklabels={1.2,1.3,1.4,1.5,1.6,1.7,1.8},
]
\addplot[prdline] coordinates {(1850,1.243) (2005,1.243)};
\end{axis}

\begin{axis}[panel, bottomrow, at={(551.5pt,62pt)},
  title={h) ROSS PRODUCT DEPTH},
  y dir=reverse, ymin=1.2, ymax=1.8, ytick={1.2,1.3,1.4,1.5,1.6,1.7,1.8}, minor y tick num=4,
  yticklabels={},
]
\addplot[draw=none, no markers, forget plot,
  error bars/.cd, y dir=plus, y explicit, error mark=none,
  error bar style={solid, draw=banddark, line width=2.6pt}]
  table[x=year, y=base, y error plus expr=\thisrow{deep}-\thisrow{base}] {\tabH};
\addplot[prdline] coordinates {
(1850,1.400) (1855,1.400) (1856,1.408) (1857,1.400) (1858,1.401) (1859,1.405) (1860,1.400)
(1867,1.400) (1868,1.407) (1869,1.401) (1872,1.403) (1873,1.400) (1874,1.404) (1875,1.402) (1876,1.400)
(1884,1.400) (1885,1.407) (1886,1.400) (1888,1.400) (1889,1.408) (1890,1.400)
(1898,1.400) (1899,1.412) (1900,1.402) (1901,1.400) (1902,1.405) (1903,1.408) (1904,1.410)
(1905,1.450) (1906,1.420) (1907,1.415) (1908,1.418) (1909,1.412) (1910,1.408) (1911,1.404) (1912,1.400)
(1917,1.400) (1918,1.409) (1919,1.400) (1962,1.400) (1963,1.412) (1964,1.401) (1965,1.400)
(1973,1.400) (1974,1.403) (1975,1.400) (2005,1.400)};
\end{axis}
\end{tikzpicture}
\end{document}
